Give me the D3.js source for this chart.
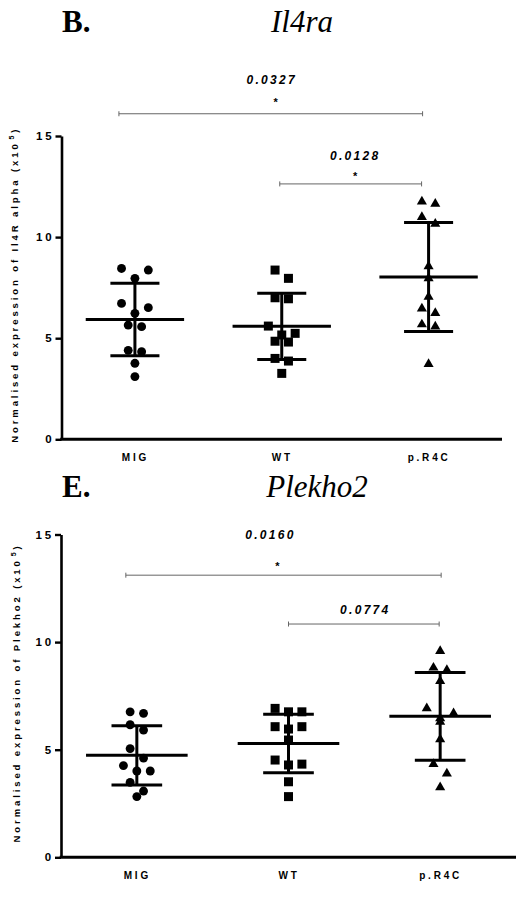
<!DOCTYPE html>
<html>
<head>
<meta charset="utf-8">
<script src="https://cdn.jsdelivr.net/npm/d3@7"></script>
<style>
  body { margin: 0; background: #fff; }
  text { font-family: "Liberation Sans", Arial, sans-serif; fill: #000; }
</style>
</head>
<body>
<div id="chart"></div>
<script>
// groups and axis ticks
var groups = ["MIG", "WT", "p.R4C"];
var yTicks = [0, 5, 10, 15];

// Il4ra, normalised expression (x10^5), one value per sample
var il4raMIG = [8.45, 8.37, 7.96, 6.72, 6.51, 6.23, 5.65, 5.57, 4.40, 4.33, 3.76, 3.10];
var il4raWT  = [8.37, 7.96, 7.00, 6.95, 5.60, 5.24, 5.16, 4.85, 4.81, 4.00, 3.87, 3.26];
var il4raR4C = [11.76, 11.65, 10.99, 10.66, 8.55, 7.96, 7.05, 6.46, 6.24, 5.68, 5.58, 3.72];

// Plekho2, normalised expression (x10^5)
var plekMIG = [6.76, 6.69, 6.16, 5.91, 5.05, 4.61, 4.26, 4.01, 4.01, 3.48, 3.08, 2.82];
var plekWT  = [6.92, 6.76, 6.76, 6.07, 6.07, 5.96, 5.45, 4.52, 4.33, 4.29, 3.51, 2.82];
var plekR4C = [9.58, 8.81, 8.70, 8.19, 6.92, 6.69, 6.46, 6.30, 5.48, 4.33, 3.89, 3.25];

// p-value brackets (levels in axis units)
var il4raBrackets = [
    { from: "MIG", to: "p.R4C", p: "0.0327", star: true, level: 16.1, labelLevel: 17.77, starLevel: 16.78 },
    { from: "WT", to: "p.R4C", p: "0.0128", star: true, level: 12.63, labelLevel: 14.06, starLevel: 13.1 }
];
var plekBrackets = [
    { from: "MIG", to: "p.R4C", p: "0.0160", star: true, level: 13.11, labelLevel: 15.0, starLevel: 13.65 },
    { from: "WT", to: "p.R4C", p: "0.0774", star: false, level: 10.84, labelLevel: 11.53 }
];

var svg = d3.select("#chart").append("svg")
    .attr("width", 518)
    .attr("height", 897);

var shapes = [d3.symbolCircle, d3.symbolSquare, d3.symbolTriangle],
    shapeSize = [62, 81, 44];

drawPanel({
    letter: "B.", gene: "Il4ra", headY: 32, geneX: 302,
    top: 136, bottom: 439.3, left: 61.5, right: 502, titleX: 18,
    title: "Normalised expression of Il4R alpha (x10",
    series: [il4raMIG, il4raWT, il4raR4C],
    brackets: il4raBrackets,
    nudge: [[-16, -6, -10, -6], [-2, -7, 0, 0]]
});

drawPanel({
    letter: "E.", gene: "Plekho2", headY: 497, geneX: 317,
    top: 534.5, bottom: 857.3, left: 61, right: 516, titleX: 20,
    title: "Normalised expression of Plekho2 (x10",
    series: [plekMIG, plekWT, plekR4C],
    brackets: plekBrackets,
    nudge: [[-11, 1, -18, -11], [0, -1, 1, 0]]
});

// spread points of similar value sideways, a bit like prism's scatter
function dodge(values, y, minGap, step) {
    var order = values.map((v, i) => i).sort((a, b) => values[b] - values[a]);
    var off = values.map(() => 0);
    var row = [];

    function flush() {
        var n = row.length;
        var pattern = n === 1 ? [0] : n === 2 ? [-1, 1] : [-2, 2, 0];
        row.forEach((idx, k) => off[idx] = pattern[k] * step);
        row = [];
    }

    order.forEach(idx => {
        if (row.length && (y(values[idx]) - y(values[row[0]]) >= minGap || row.length === 3)) flush();
        row.push(idx);
    });
    if (row.length) flush();
    return off;
}

function drawPanel(cfg) {
    var g = svg.append("g");

    var x = d3.scalePoint()
        .domain(groups)
        .range([cfg.left, cfg.right])
        .padding(0.5);

    var y = d3.scaleLinear()
        .domain([0, 15])
        .range([cfg.bottom, cfg.top]);

    var step = x.step();

    // headings
    g.append("text")
        .attr("x", 62)
        .attr("y", cfg.headY)
        .style("font-family", "'Liberation Serif', 'Times New Roman', serif")
        .style("font-weight", "bold")
        .style("font-size", "31px")
        .text(cfg.letter);

    g.append("text")
        .attr("x", cfg.geneX)
        .attr("y", cfg.headY)
        .attr("text-anchor", "middle")
        .style("font-family", "'Liberation Serif', 'Times New Roman', serif")
        .style("font-style", "italic")
        .style("font-size", "31px")
        .text(cfg.gene);

    // y axis
    var yAxis = g.append("g")
        .attr("transform", "translate(" + cfg.left + ",0)")
        .call(d3.axisLeft(y).tickValues(yTicks).tickSize(6).tickSizeOuter(0).tickPadding(1));

    yAxis.select(".domain").attr("stroke", "#000").attr("stroke-width", 2.6);
    yAxis.selectAll(".tick line").attr("stroke", "#000").attr("stroke-width", 2.4);
    yAxis.selectAll(".tick text")
        .style("font-family", "'Liberation Sans', Arial, sans-serif")
        .style("font-size", "11.5px")
        .style("font-weight", "bold")
        .style("letter-spacing", "2.8px");

    // x axis
    var xAxis = g.append("g")
        .attr("transform", "translate(0," + cfg.bottom + ")")
        .call(d3.axisBottom(x).tickSize(0).tickSizeOuter(0).tickPadding(15));

    xAxis.select(".domain").attr("stroke", "#000").attr("stroke-width", 3)
        .attr("d", "M" + (cfg.left - 1.3) + ",0H" + cfg.right);
    xAxis.selectAll(".tick text")
        .style("font-family", "'Liberation Sans', Arial, sans-serif")
        .style("font-size", "10px")
        .style("font-weight", "bold")
        .style("letter-spacing", "2.8px");

    // y title
    var title = g.append("text")
        .attr("transform", "translate(" + cfg.titleX + "," + ((cfg.top + cfg.bottom) / 2 - 3) + ") rotate(-90)")
        .attr("text-anchor", "middle")
        .style("font-size", "9.5px")
        .style("font-weight", "bold")
        .style("letter-spacing", "2.9px");
    title.append("tspan").text(cfg.title);
    title.append("tspan").attr("dx", 2).attr("dy", -4).style("font-size", "7px").text("5");
    title.append("tspan").attr("dy", 4).text(")");

    // points, mean and SD
    cfg.series.forEach((values, gi) => {
        var cx = x(groups[gi]);
        var off = dodge(values, y, 10, 6.7);
        var sym = d3.symbol().type(shapes[gi]).size(shapeSize[gi]);

        g.selectAll(".pt" + gi)
            .data(values)
            .enter().append("path")
            .attr("class", "pt" + gi)
            .attr("transform", (d, i) => "translate(" + (cx + off[i]) + "," + y(d) + ")")
            .attr("d", sym)
            .attr("fill", "#000");

        var m = d3.mean(values),
            sd = d3.deviation(values);

        var stats = g.append("g").attr("stroke", "#000").attr("stroke-width", 3);
        stats.append("line")
            .attr("x1", cx).attr("x2", cx)
            .attr("y1", y(m - sd)).attr("y2", y(m + sd));
        stats.append("line")
            .attr("x1", cx - step * 0.335).attr("x2", cx + step * 0.335)
            .attr("y1", y(m)).attr("y2", y(m));
        [m - sd, m + sd].forEach(v => {
            stats.append("line")
                .attr("x1", cx - step * 0.167).attr("x2", cx + step * 0.167)
                .attr("y1", y(v)).attr("y2", y(v));
        });
    });

    // significance brackets
    cfg.brackets.forEach((b, bi) => {
        var n = cfg.nudge[bi];
        var x0 = x(b.from) + n[0],
            x1 = x(b.to) + n[1],
            by = y(b.level),
            mid = (x(b.from) + x(b.to)) / 2;

        var br = g.append("g").attr("stroke", "#666").attr("stroke-width", 1);
        br.append("line").attr("x1", x0).attr("x2", x1).attr("y1", by).attr("y2", by);
        br.append("line").attr("x1", x0).attr("x2", x0).attr("y1", by - 2.5).attr("y2", by + 2.5);
        br.append("line").attr("x1", x1).attr("x2", x1).attr("y1", by - 2.5).attr("y2", by + 2.5);

        g.append("text")
            .attr("x", mid + n[2])
            .attr("y", y(b.labelLevel) + 4.5)
            .attr("text-anchor", "middle")
            .style("font-size", "12px")
            .style("font-weight", "bold")
            .style("font-style", "italic")
            .style("letter-spacing", "2.3px")
            .text(b.p);

        if (b.star) {
            g.append("text")
                .attr("x", mid + n[3])
                .attr("y", y(b.starLevel) + 6)
                .attr("text-anchor", "middle")
                .style("font-size", "11px")
                .style("font-weight", "bold")
                .text("*");
        }
    });
}
</script>
</body>
</html>
